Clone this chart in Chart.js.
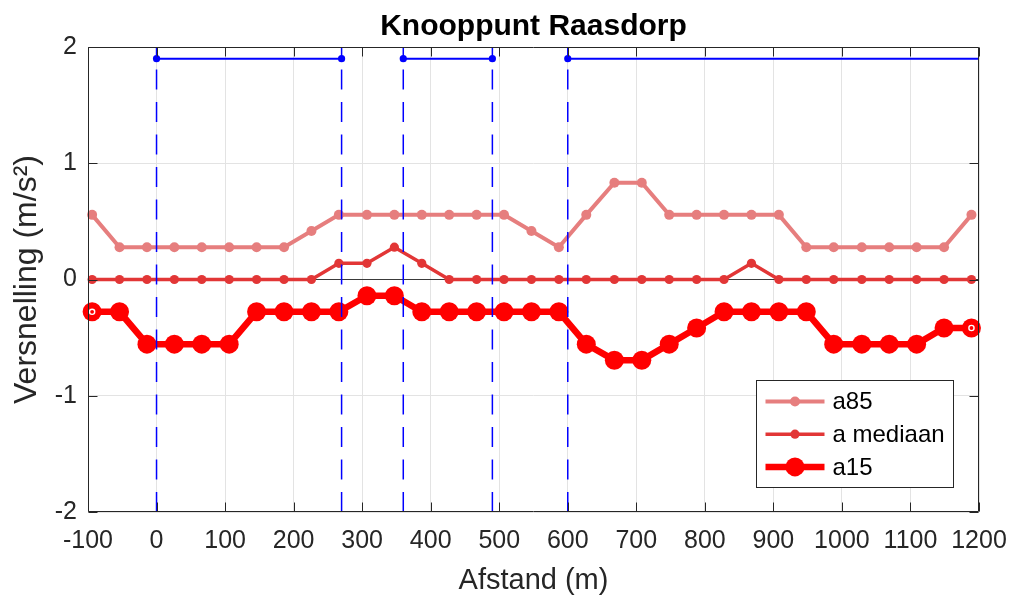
<!DOCTYPE html>
<html>
<head>
<meta charset="utf-8">
<title>Knooppunt Raasdorp</title>
<script src="https://cdn.jsdelivr.net/npm/chart.js@4.4.1/dist/chart.umd.min.js"></script>
<style>
  html, body { margin: 0; padding: 0; background: #ffffff; }
  canvas { display: block; }
</style>
</head>
<body>
<canvas id="chart" width="1011" height="598"></canvas>
<script>
// Measurement positions along the route (m)
const distance = [-94, -54, -14, 26, 66, 106, 146, 186, 226, 266, 307, 347, 387, 427, 467, 507,
                  547, 587, 627, 668, 708, 748, 788, 828, 868, 908, 948, 988, 1029, 1069, 1109, 1149, 1189];

// Acceleration percentiles (m/s²)
const a85 = [0.556, 0.278, 0.278, 0.278, 0.278, 0.278, 0.278, 0.278, 0.417, 0.556, 0.556, 0.556, 0.556, 0.556, 0.556, 0.556,
             0.417, 0.278, 0.556, 0.833, 0.833, 0.556, 0.556, 0.556, 0.556, 0.556, 0.278, 0.278, 0.278, 0.278, 0.278, 0.278, 0.556];
const aMediaan = [0, 0, 0, 0, 0, 0, 0, 0, 0, 0.139, 0.139, 0.278, 0.139, 0, 0, 0,
                  0, 0, 0, 0, 0, 0, 0, 0, 0.139, 0, 0, 0, 0, 0, 0, 0, 0];
const a15 = [-0.278, -0.278, -0.556, -0.556, -0.556, -0.556, -0.278, -0.278, -0.278, -0.278, -0.139, -0.139, -0.278, -0.278, -0.278, -0.278,
             -0.278, -0.278, -0.556, -0.694, -0.694, -0.556, -0.417, -0.278, -0.278, -0.278, -0.278, -0.556, -0.556, -0.556, -0.556, -0.417, -0.417];

// Section boundaries along the route (m) and the stretches they enclose
const boundaries = [0, 270, 360, 490, 600];
const stretches = [[0, 270], [360, 490], [600, 1200]];
const stretchLevel = 1.9;

// Axis ticks
const xTickValues = [-100, 0, 100, 200, 300, 400, 500, 600, 700, 800, 900, 1000, 1100, 1200];
const yTickValues = [-2, -1, 0, 1, 2];

const FONT = '"Liberation Sans", Arial, Helvetica, sans-serif';
const INK = '#262626';
const BLUE = '#0000ff';

const seriesStyle = [
  { label: 'a85',       values: a85,      color: '#e67e7e', width: 4,   radius: 5 },
  { label: 'a mediaan', values: aMediaan, color: '#e23636', width: 3.5, radius: 4.6 },
  { label: 'a15',       values: a15,      color: '#ff0000', width: 6.5, radius: 9.5 }
];

// Vertical dashed boundary lines, drawn upward so the dash pattern starts at the bottom
const boundarySets = boundaries.map(b => ({
  data: [{ x: b, y: -2 }, { x: b, y: 2 }],
  borderColor: BLUE,
  borderWidth: 1.5,
  borderDash: [20, 12.5],
  pointRadius: 0,
  fill: false,
  clip: false
}));

// Horizontal stretch indicators; the last one runs off the right edge
const stretchPoints = [];
const stretchRadii = [];
stretches.forEach(([s, e], i) => {
  if (i > 0) { stretchPoints.push({ x: (stretches[i - 1][1] + s) / 2, y: null }); stretchRadii.push(0); }
  stretchPoints.push({ x: s, y: stretchLevel }); stretchRadii.push(3.6);
  stretchPoints.push({ x: e, y: stretchLevel }); stretchRadii.push(e >= 1200 ? 0 : 3.6);
});
const stretchSet = {
  data: stretchPoints,
  borderColor: BLUE,
  backgroundColor: BLUE,
  borderWidth: 2,
  pointRadius: stretchRadii,
  pointBorderWidth: 0,
  spanGaps: false,
  fill: false
};

// Percentile series (drawn in order a85, mediaan, a15 with a15 on top)
const seriesSets = seriesStyle.slice().reverse().map(s => ({
  label: s.label,
  data: distance.map((d, i) => ({ x: d, y: s.values[i] })),
  borderColor: s.color,
  backgroundColor: s.color,
  borderWidth: s.width,
  pointRadius: s.radius,
  pointBorderWidth: 0,
  pointBackgroundColor: s.color,
  tension: 0,
  fill: false,
  clip: false
}));

const frameAndLegend = {
  id: 'frameAndLegend',
  afterDatasetsDraw(chart) {
    const { ctx, chartArea: a, scales: { x, y } } = chart;
    ctx.save();

    // small hollow rings at the first and last a15 markers
    const a15Meta = chart.getDatasetMeta(boundarySets.length + 1);
    [0, a15Meta.data.length - 1].forEach(i => {
      const p = a15Meta.data[i];
      ctx.beginPath();
      ctx.arc(p.x, p.y, 2.6, 0, Math.PI * 2);
      ctx.strokeStyle = '#ffffff';
      ctx.lineWidth = 1.4;
      ctx.stroke();
    });

    // axes box and inward tick marks
    ctx.strokeStyle = INK;
    ctx.lineWidth = 1;
    const L = Math.round(a.left) + 0.5, R = Math.round(a.right) - 0.5;
    const T = Math.round(a.top) + 0.5, B = Math.round(a.bottom) - 0.5;
    ctx.beginPath();
    ctx.rect(L, T, R - L, B - T);
    xTickValues.forEach(v => {
      const px = Math.round(x.getPixelForValue(v)) + 0.5;
      ctx.moveTo(px, B); ctx.lineTo(px, B - 9);
      ctx.moveTo(px, T); ctx.lineTo(px, T + 9);
    });
    yTickValues.forEach(v => {
      const py = Math.round(y.getPixelForValue(v)) + 0.5;
      ctx.moveTo(L, py); ctx.lineTo(L + 9, py);
      ctx.moveTo(R, py); ctx.lineTo(R - 9, py);
    });
    ctx.stroke();

    // legend, lower right inside the axes
    const bx = Math.round(a.right) - 223 + 0.5, by = Math.round(a.bottom) - 132 + 0.5;
    const bw = 197, bh = 107;
    ctx.fillStyle = '#ffffff';
    ctx.fillRect(bx, by, bw, bh);
    ctx.strokeStyle = INK;
    ctx.lineWidth = 1;
    ctx.strokeRect(bx, by, bw, bh);
    ctx.font = '24px ' + FONT;
    ctx.textBaseline = 'middle';
    ctx.textAlign = 'left';
    seriesStyle.forEach((s, i) => {
      const cy = by + 21 + i * 32.7;
      ctx.strokeStyle = s.color;
      ctx.lineWidth = s.width;
      ctx.beginPath();
      ctx.moveTo(bx + 9, cy);
      ctx.lineTo(bx + 68, cy);
      ctx.stroke();
      ctx.fillStyle = s.color;
      ctx.beginPath();
      ctx.arc(bx + 38.5, cy, s.radius, 0, Math.PI * 2);
      ctx.fill();
      ctx.fillStyle = '#000000';
      ctx.fillText(s.label, bx + 76, cy + 1);
    });
    ctx.restore();
  }
};

new Chart(document.getElementById('chart'), {
  type: 'line',
  data: { datasets: [...boundarySets, stretchSet, ...seriesSets] },
  options: {
    responsive: false,
    animation: false,
    devicePixelRatio: 1,
    layout: { padding: { left: 0, right: 32, top: 0, bottom: 0 } },
    plugins: {
      legend: { display: false },
      tooltip: { enabled: false },
      title: {
        display: true,
        fullSize: false,
        text: 'Knooppunt Raasdorp',
        color: '#000000',
        font: { family: FONT, size: 30, weight: 'bold' },
        padding: { top: 9, bottom: 2 }
      }
    },
    scales: {
      x: {
        type: 'linear',
        position: 'bottom',
        min: -100,
        max: 1200,
        afterBuildTicks: s => { s.ticks = xTickValues.map(v => ({ value: v })); },
        afterFit: s => { s.height = 86; s.paddingLeft = 0; s.paddingRight = 0; },
        ticks: {
          color: INK,
          font: { family: FONT, size: 25 },
          padding: 14,
          maxRotation: 0,
          autoSkip: false,
          callback: v => String(v)
        },
        grid: { color: '#e3e3e3', lineWidth: 1, drawTicks: false },
        border: { display: false },
        title: {
          display: true,
          text: 'Afstand (m)',
          color: INK,
          font: { family: FONT, size: 29 },
          padding: { top: 0, bottom: 0 }
        }
      },
      y: {
        type: 'linear',
        position: 'left',
        min: -2,
        max: 2,
        afterBuildTicks: s => { s.ticks = yTickValues.map(v => ({ value: v })); },
        afterFit: s => { s.width = 88; s.paddingTop = 0; s.paddingBottom = 0; },
        ticks: { color: INK, font: { family: FONT, size: 25 }, padding: 11, callback: v => String(v) },
        grid: {
          color: c => (c.tick && c.tick.value === 0) ? '#3a3a3a' : '#e3e3e3',
          lineWidth: 1,
          drawTicks: false
        },
        border: { display: false },
        title: {
          display: true,
          text: 'Versnelling (m/s²)',
          color: INK,
          font: { family: FONT, size: 32 },
          padding: { top: 8, bottom: 0 }
        }
      }
    }
  },
  plugins: [frameAndLegend]
});
</script>
</body>
</html>
